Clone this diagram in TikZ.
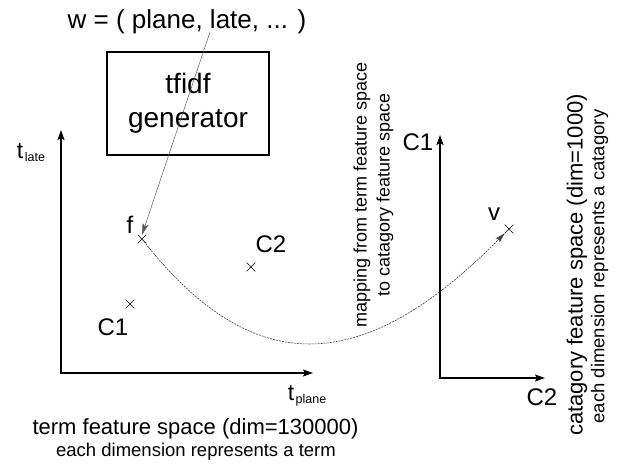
\documentclass[tikz,border=0pt]{standalone}
\usepackage{fontspec}
\setmainfont{Liberation Sans}
\usetikzlibrary{arrows.meta,shapes.misc}
\begin{document}
\begin{tikzpicture}[x=1pt,y=-1pt,
  lbl/.style={inner sep=0pt, font=\fontsize{24}{24}\selectfont},
  xmark/.style={cross out, draw, minimum size=8pt, inner sep=0pt, line width=0.6pt},
  axis/.style={line width=1.6pt, {Stealth[length=10pt,width=7pt,inset=2pt]}-{Stealth[length=10pt,width=7pt,inset=2pt]}},
  feed/.style={line width=0.5pt, draw=black!65, -{Stealth[length=11pt,width=6pt,inset=2pt]}},
  mapline/.style={line width=0.6pt, draw=black!75, dash pattern=on 2pt off 1pt, -{Stealth[length=10pt,width=5.5pt,inset=2pt]}},
  genbox/.style={draw, line width=1.2pt, minimum width=162pt, minimum height=103pt, align=center, inner sep=0pt, font=\fontsize{28}{34}\selectfont},
  caption/.style={inner sep=0pt, font=\fontsize{22}{22}\selectfont},
  subcaption/.style={inner sep=0pt, font=\fontsize{18.5}{18.5}\selectfont}
]
\useasboundingbox (0,0) rectangle (622,466);

% input vector and generator
\node[inner sep=0pt, font=\fontsize{26}{26}\selectfont] (w) at (187,22) {w = ( plane, late, ... )};
\node[genbox] (gen) at (188,103.5) {tfidf\\generator};

% left axes
\coordinate (ly) at (61,130);
\coordinate (lx) at (313,373);
\draw[axis] (ly) |- (lx);
\node[inner sep=0pt, font=\fontsize{23}{23}\selectfont] (tlate) at (31,152.5) {t\hspace{1.5pt}\raisebox{-3pt}{\fontsize{12.5}{12.5}\selectfont late}};
\node[inner sep=0pt, font=\fontsize{23}{23}\selectfont] (tplane) at (307,396) {t\hspace{1.5pt}\raisebox{-3pt}{\fontsize{12.5}{12.5}\selectfont plane}};

% points in term space
\node[xmark] (f) at (142,239) {};
\node[xmark] (c1) at (130,304) {};
\node[xmark] (c2) at (251,267) {};
\node[lbl] (flbl) at (130,225) {f};
\node[lbl] (c1lbl) at (113,327) {C1};
\node[lbl] (c2lbl) at (271,244) {C2};

% input arrow
\coordinate (ws) at (210,32);
\draw[feed] (ws) -- (f.north);

% right axes
\coordinate (ry) at (440,135);
\coordinate (rx) at (545,378);
\draw[axis] (ry) |- (rx);
\node[lbl] (rc1) at (418,142) {C1};
\node[lbl] (rc2) at (542,397) {C2};
\node[xmark] (v) at (509,229) {};
\node[lbl] (vlbl) at (494,214) {v};

% mapping curve
\draw[mapline] (f.center) .. controls (251,379) and (361,379) .. (v.south west);

% rotated texts
\node[rotate=90, align=center, inner sep=0pt, font=\fontsize{18}{23}\selectfont] (maptxt) at (373.5,195) {mapping from term feature space\\to catagory feature space};
\node[caption, rotate=90] (rcap) at (577,265) {catagory feature space (dim=1000)};
\node[subcaption, rotate=90] (rsub) at (599.5,266.5) {each dimension represents a catagory};

% left captions
\node[caption] (lcap) at (195.5,428.5) {term feature space (dim=130000)};
\node[subcaption] (lsub) at (196,452) {each dimension represents a term};
\end{tikzpicture}
\end{document}
